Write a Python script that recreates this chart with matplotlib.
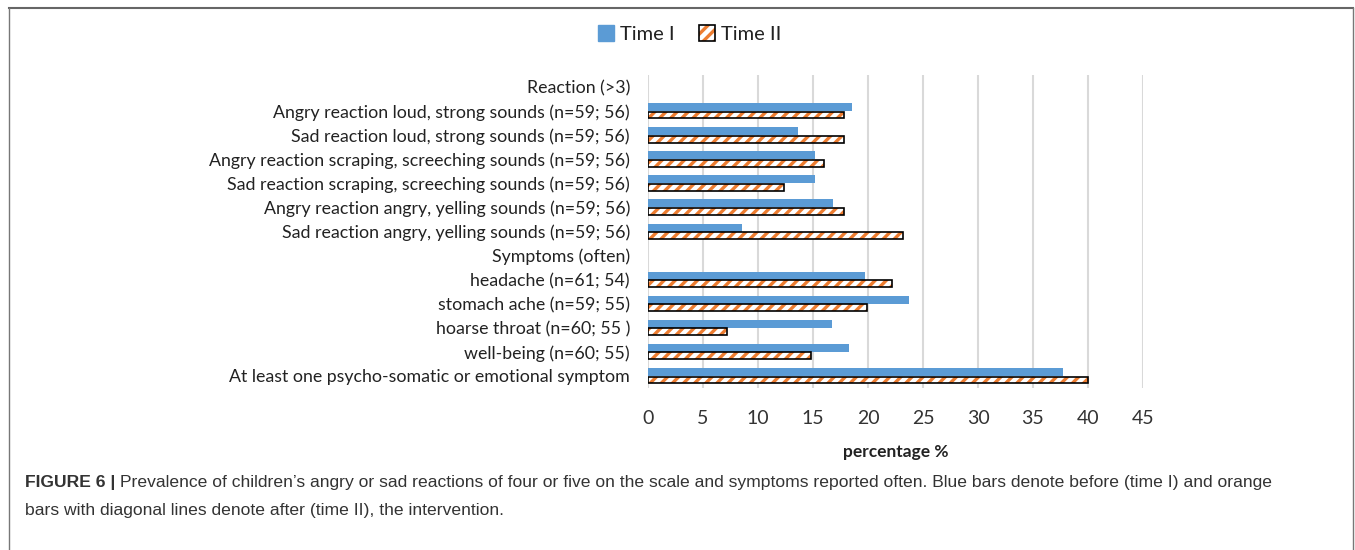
import matplotlib
matplotlib.use("Agg")
import matplotlib.pyplot as plt
from matplotlib.patches import Patch
from matplotlib.lines import Line2D
from matplotlib.legend_handler import HandlerTuple
import numpy as np

categories = [
    "Reaction (>3)",
    "Angry reaction loud, strong sounds (n=59; 56)",
    "Sad reaction loud, strong sounds (n=59; 56)",
    "Angry reaction scraping, screeching sounds (n=59; 56)",
    "Sad reaction scraping, screeching sounds (n=59; 56)",
    "Angry reaction angry, yelling sounds (n=59; 56)",
    "Sad reaction angry, yelling sounds (n=59; 56)",
    "Symptoms (often)",
    "headache (n=61; 54)",
    "stomach ache (n=59; 55)",
    "hoarse throat (n=60; 55 )",
    "well-being (n=60; 55)",
    "At least one psycho-somatic or emotional symptom",
]
time1 = [np.nan, 18.5, 13.6, 15.2, 15.2, 16.8, 8.5, np.nan, 19.7, 23.7, 16.7, 18.3, 37.7]
time2 = [np.nan, 17.8, 17.8, 16.0, 12.4, 17.8, 23.2, np.nan, 22.2, 19.9, 7.2, 14.8, 40.0]
xticks = [0, 5, 10, 15, 20, 25, 30, 35, 40, 45]

W, H = 1355, 550
fig = plt.figure(figsize=(W / 100, H / 100), dpi=100)
plt.rcParams['hatch.linewidth'] = 2.4

ax = fig.add_axes([648 / W, 1 - 388 / H, (1143 - 648) / W, (388 - 75) / H])
y = np.arange(len(categories))
blue = "#5b9bd5"
orange = "#ed7d31"
ax.barh(y - 0.165, time1, height=0.33, color=blue, zorder=3)
ax.barh(y + 0.165, time2, height=0.28, facecolor="white", edgecolor=orange,
        hatch="///", linewidth=0, zorder=3)
ax.barh(y + 0.165, time2, height=0.28, fill=False, edgecolor="black",
        linewidth=1.2, zorder=4)

ax.set_xlim(0, 45)
ax.set_ylim(len(categories) - 0.5, -0.5)
ax.set_xticks(xticks)
ax.set_xticklabels([str(t) for t in xticks], fontsize=14, family="Lato", color="#333333")
ax.set_yticks(y)
ax.set_yticklabels(categories, fontsize=12.8, family="Lato", color="#222222")
ax.tick_params(axis="both", length=0)
ax.tick_params(axis="y", pad=13)
ax.tick_params(axis="x", pad=16)
for s in ax.spines.values():
    s.set_visible(False)
ax.xaxis.grid(True, color="#d9d9d9", linewidth=1.5, zorder=0)
ax.set_axisbelow(True)
ax.set_xlabel("percentage %", fontsize=12.5, family="Lato", fontweight="bold",
              color="#222222", labelpad=12)

h1 = Patch(facecolor=blue, edgecolor=blue)
h2a = Patch(facecolor="white", edgecolor=orange, hatch="///", linewidth=0)
h2b = Patch(fill=False, edgecolor="black", linewidth=1.2)
leg = fig.legend([h1, (h2a, h2b)], ["Time I", "Time II"], loc="center",
                 bbox_to_anchor=(690 / W, 1 - 34 / H), ncol=2, frameon=False,
                 prop={"family": "Lato", "size": 14.5}, handlelength=0.8,
                 handleheight=0.8, handletextpad=0.3, columnspacing=1.2,
                 handler_map={tuple: HandlerTuple(ndivide=1, pad=0)})
for t in leg.get_texts():
    t.set_color("#222222")

# frame
col = "#777777"
fig.add_artist(Line2D([9 / W, 1353 / W], [1 - 8 / H, 1 - 8 / H], color="#666666", linewidth=1.5,
                      transform=fig.transFigure))
fig.add_artist(Line2D([9 / W, 9 / W], [1 - 8 / H, 0], color=col, linewidth=1.0,
                      transform=fig.transFigure))
fig.add_artist(Line2D([1353 / W, 1353 / W], [1 - 8 / H, 0], color=col, linewidth=1.0,
                      transform=fig.transFigure))

# caption
cap_font = dict(family="Liberation Sans", fontsize=12.6, color="#333333")
t1 = fig.text(25 / W, 1 - 483 / H, "FIGURE 6 | ", fontweight="bold", va="center", **cap_font)
fig.canvas.draw()
bb = t1.get_window_extent(renderer=fig.canvas.get_renderer())
fig.text(bb.x1 / W, 1 - 483 / H,
         "Prevalence of children\u2019s angry or sad reactions of four or five on the scale and symptoms reported often. Blue bars denote before (time I) and orange",
         va="center", **cap_font)
fig.text(25 / W, 1 - 510 / H,
         "bars with diagonal lines denote after (time II), the intervention.",
         va="center", **cap_font)

fig.savefig("out.png", dpi=100, facecolor="white")
